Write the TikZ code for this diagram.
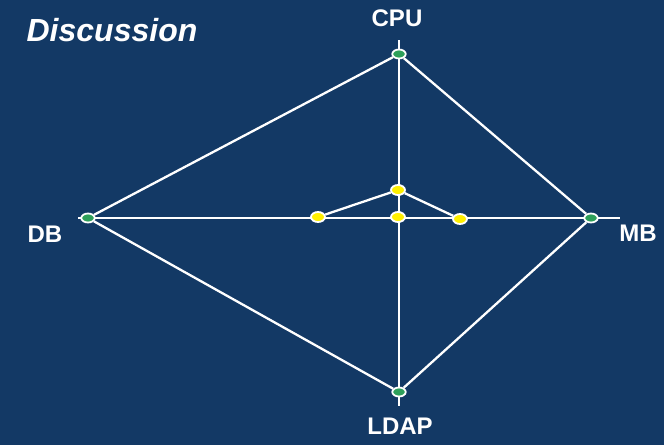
\documentclass[tikz,border=0pt]{standalone}
\usepackage{fontspec}
\setmainfont{Liberation Sans}
\usetikzlibrary{shapes.geometric}
\definecolor{bgblue}{RGB}{19,57,101}
\definecolor{dotgreen}{RGB}{46,160,90}
\definecolor{dotyellow}{RGB}{255,240,0}
\begin{document}
\begin{tikzpicture}[
    x=1pt, y=-1pt,
    axis/.style={draw=white, line width=2.3pt},
    edge/.style={draw=white, line width=2.3pt},
    endnode/.style={ellipse, draw=white, line width=1.8pt, fill=dotgreen, minimum width=13.5pt, minimum height=9pt, inner sep=0pt},
    midnode/.style={ellipse, draw=white, line width=1.8pt, fill=dotyellow, minimum width=14pt, minimum height=10pt, inner sep=0pt},
    lbl/.style={text=white, font=\fontsize{24}{28}\selectfont\bfseries}
]

% Background
\fill[bgblue] (0,0) rectangle (664,445);

% Title
\node[text=white, font=\fontsize{32}{36}\selectfont\bfseries\itshape] (title) at (112,30) {Discussion};

% Axes
\coordinate (hl) at (78,218);
\coordinate (hr) at (620,218);
\coordinate (vt) at (399,40);
\coordinate (vb) at (399,406);
\draw[axis] (hl) -- (hr);
\draw[axis] (vt) -- (vb);

% Outer nodes
\node[endnode] (cpu) at (399,54) {};
\node[endnode] (db) at (88,218) {};
\node[endnode] (mb) at (591,218) {};
\node[endnode] (ldap) at (399,392) {};

% Inner nodes
\node[midnode] (ytop) at (398,190) {};
\node[midnode] (yleft) at (318,217) {};
\node[midnode] (ymid) at (398,217) {};
\node[midnode] (yright) at (460,219) {};

% Diamond
\draw[edge] (cpu) -- (db);
\draw[edge] (db) -- (ldap);
\draw[edge] (ldap) -- (mb);
\draw[edge] (mb) -- (cpu);

% Triangle
\draw[edge] (ytop) -- (yleft);
\draw[edge] (ytop) -- (yright);

% Labels
\node[lbl] (cpulbl) at (397,18) {CPU};
\node[lbl] (dblbl) at (45,234) {DB};
\node[lbl] (mblbl) at (638,233) {MB};
\node[lbl] (ldaplbl) at (400,426) {LDAP};

\end{tikzpicture}
\end{document}
